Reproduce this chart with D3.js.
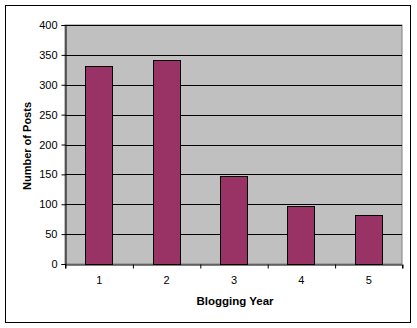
<!DOCTYPE html>
<html>
<head>
<meta charset="utf-8">
<script src="https://cdn.jsdelivr.net/npm/d3@7"></script>
<style>
    body { margin: 0; background: #fff; }
    text { font-family: "Liberation Sans", Arial, sans-serif; }
</style>
</head>
<body>
<div class="js-canvas"></div>
<script>
'use strict';

// data
const years = ['1', '2', '3', '4', '5'];
const posts = [331, 341, 147, 97, 82];
const yTicks = [0, 50, 100, 150, 200, 250, 300, 350, 400];

const config = {
    width: 417,
    height: 328,
    plot: { left: 65, top: 25, right: 402, bottom: 264 }
};

const svg = d3.select('.js-canvas')
    .append('svg')
    .attr('width', config.width)
    .attr('height', config.height);

// outer chart border
svg.append('rect')
    .attr('x', 5.5).attr('y', 5.5)
    .attr('width', 405).attr('height', 317)
    .attr('fill', '#fff')
    .attr('stroke', '#000');

const p = config.plot;

const x = d3.scaleBand()
    .domain(years)
    .range([p.left, p.right])
    .paddingInner(0.6)
    .paddingOuter(0.3);

const y = d3.scaleLinear()
    .domain([0, 400])
    .range([p.bottom, p.top]);

// plot area
svg.append('rect')
    .attr('x', p.left).attr('y', p.top)
    .attr('width', p.right - p.left).attr('height', p.bottom - p.top)
    .attr('fill', '#c0c0c0')
    .attr('stroke', '#808080');

// gridlines
svg.append('g')
    .selectAll('line')
    .data(yTicks.filter(d => d > 0))
    .enter().append('line')
    .attr('x1', p.left).attr('x2', p.right)
    .attr('y1', d => Math.round(y(d)) + 0.5)
    .attr('y2', d => Math.round(y(d)) + 0.5)
    .attr('stroke', '#000');

// bars
svg.append('g')
    .selectAll('rect')
    .data(posts)
    .enter().append('rect')
    .attr('x', (d, i) => Math.round(x(years[i])) + 0.5)
    .attr('y', d => Math.round(y(d)) + 0.5)
    .attr('width', Math.round(x.bandwidth()))
    .attr('height', d => Math.round(y(0)) - Math.round(y(d)))
    .attr('fill', '#993366')
    .attr('stroke', '#000');

// y axis
const yAxis = d3.axisLeft(y).tickValues(yTicks).tickSize(4).tickPadding(4);
const yG = svg.append('g')
    .attr('transform', `translate(${p.left + 0.5},0)`)
    .call(yAxis);
yG.selectAll('text').attr('font-size', 11).attr('fill', '#000').style('font-family', '"Liberation Sans", Arial, sans-serif');

// x axis: ticks at category boundaries
const xBase = d3.scaleLinear().domain([0, years.length]).range([p.left, p.right]);
const xAxis = d3.axisBottom(xBase).ticks(years.length).tickSize(4).tickFormat('');
const xG = svg.append('g')
    .attr('transform', `translate(0,${Math.round(p.bottom) + 0.5})`)
    .call(xAxis);
xG.selectAll('.tick line').attr('transform', 'translate(0.5,0)');

svg.append('g')
    .selectAll('text')
    .data(years)
    .enter().append('text')
    .attr('x', d => x(d) + x.bandwidth() / 2 + 0.5)
    .attr('y', 284)
    .attr('text-anchor', 'middle')
    .attr('font-size', 11)
    .text(d => d);

[yG, xG].forEach(g => g.selectAll('path, line').attr('stroke', '#000'));

// titles
svg.append('text')
    .attr('x', 235).attr('y', 305)
    .attr('text-anchor', 'middle')
    .attr('font-size', 11.5).attr('font-weight', 'bold')
    .text('Blogging Year');

svg.append('text')
    .attr('transform', 'translate(31,146) rotate(-90)')
    .attr('text-anchor', 'middle')
    .attr('font-size', 11).attr('font-weight', 'bold')
    .text('Number of Posts');
</script>
</body>
</html>
